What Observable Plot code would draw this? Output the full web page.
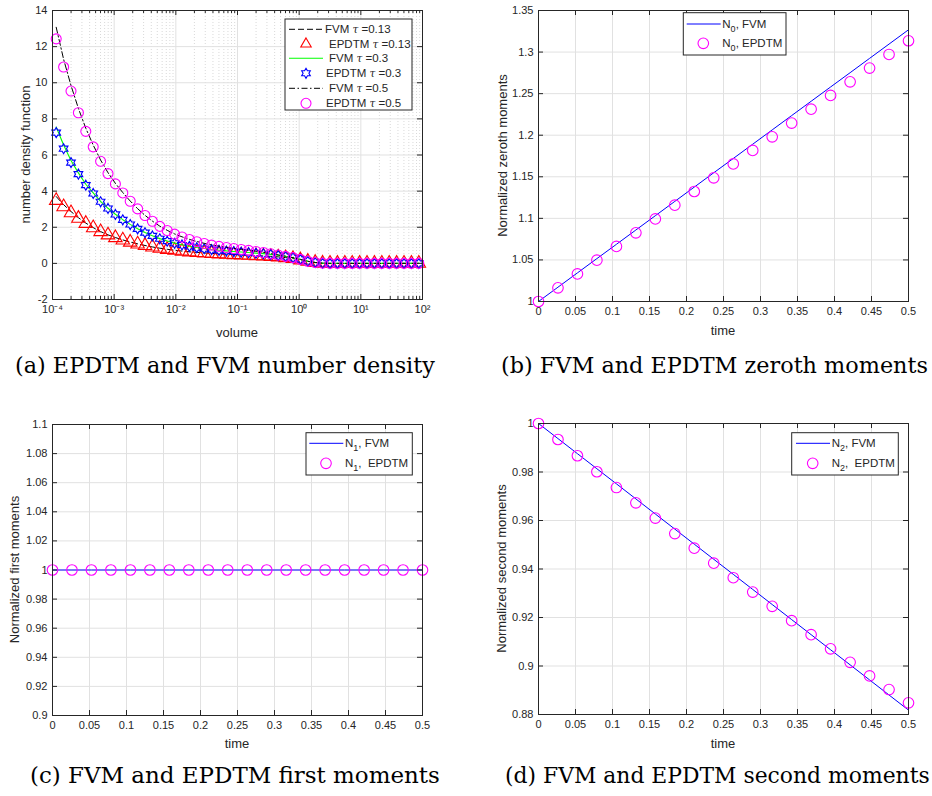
<!DOCTYPE html>
<html>
<head>
<meta charset="utf-8">
<script src="https://cdn.jsdelivr.net/npm/d3@7"></script>
<script src="https://cdn.jsdelivr.net/npm/@observablehq/plot@0.6"></script>
<style>
  body { margin: 0; background: #fff; }
  #fig { position: relative; width: 932px; height: 796px; background: #fff; overflow: hidden; }
  .panel { position: absolute; }
  #captions { position: absolute; left: 0; top: 0; }
</style>
</head>
<body>
<div id="fig"></div>
<script>
// ---------- (a) number density vs volume ----------
const volume = [1.148e-4, 1.514e-4, 1.995e-4, 2.630e-4, 3.467e-4, 4.571e-4, 6.026e-4, 7.943e-4, 1.047e-3, 1.380e-3,
  1.820e-3, 2.399e-3, 3.162e-3, 4.169e-3, 5.495e-3, 7.244e-3, 9.550e-3, 1.259e-2, 1.660e-2, 2.188e-2,
  2.884e-2, 3.802e-2, 5.012e-2, 6.607e-2, 8.710e-2, 0.1148, 0.1514, 0.1995, 0.2630, 0.3467,
  0.4571, 0.6026, 0.7943, 1.047, 1.380, 1.820, 2.399, 3.162, 4.169, 5.495,
  7.244, 9.550, 12.59, 16.60, 21.88, 28.84, 38.02, 50.12, 66.07, 87.10];

const fvm013 = [3.70, 3.25, 2.87, 2.53, 2.23, 1.98, 1.76, 1.58, 1.43, 1.30, 1.18, 1.08, 0.99, 0.91, 0.84, 0.78, 0.73, 0.68, 0.64, 0.61,
  0.58, 0.55, 0.53, 0.51, 0.49, 0.47, 0.45, 0.43, 0.41, 0.39, 0.36, 0.32, 0.27, 0.20, 0.12, 0.05, 0.01, 0, 0, 0,
  0, 0, 0, 0, 0, 0, 0, 0, 0, 0];
const epdtm013 = [3.48, 3.13, 2.80, 2.49, 2.21, 1.97, 1.75, 1.57, 1.42, 1.29, 1.17, 1.07, 0.98, 0.90, 0.83, 0.77, 0.72, 0.67, 0.63, 0.60,
  0.57, 0.54, 0.52, 0.50, 0.48, 0.46, 0.44, 0.42, 0.40, 0.38, 0.35, 0.31, 0.26, 0.19, 0.11, 0.05, 0.01, 0, 0, 0,
  0, 0, 0, 0, 0, 0, 0, 0, 0, 0];
const fvm03 = [7.55, 6.55, 5.70, 5.01, 4.38, 3.90, 3.43, 3.05, 2.72, 2.42, 2.16, 1.92, 1.71, 1.53, 1.37, 1.24, 1.12, 1.03, 0.95, 0.88,
  0.82, 0.77, 0.73, 0.69, 0.66, 0.63, 0.60, 0.57, 0.54, 0.50, 0.45, 0.39, 0.31, 0.22, 0.12, 0.05, 0.01, 0, 0, 0,
  0, 0, 0, 0, 0, 0, 0, 0, 0, 0];
const epdtm03 = [7.24, 6.35, 5.58, 4.94, 4.33, 3.87, 3.41, 3.04, 2.71, 2.41, 2.15, 1.91, 1.70, 1.52, 1.36, 1.23, 1.11, 1.02, 0.94, 0.87,
  0.81, 0.76, 0.72, 0.68, 0.65, 0.62, 0.59, 0.56, 0.53, 0.49, 0.44, 0.38, 0.31, 0.22, 0.12, 0.05, 0.01, 0, 0, 0,
  0, 0, 0, 0, 0, 0, 0, 0, 0, 0];
const fvm05 = [13.07, 11.30, 9.85, 8.58, 7.48, 6.55, 5.72, 5.02, 4.43, 3.92, 3.45, 3.03, 2.66, 2.34, 2.06, 1.83, 1.63, 1.47, 1.33, 1.21,
  1.11, 1.02, 0.95, 0.89, 0.83, 0.78, 0.73, 0.67, 0.61, 0.54, 0.47, 0.40, 0.32, 0.22, 0.12, 0.05, 0.01, 0, 0, 0,
  0, 0, 0, 0, 0, 0, 0, 0, 0, 0];
const epdtm05 = [12.43, 10.87, 9.54, 8.34, 7.31, 6.45, 5.65, 4.97, 4.40, 3.90, 3.44, 3.02, 2.65, 2.33, 2.05, 1.82, 1.62, 1.46, 1.32, 1.20,
  1.10, 1.01, 0.94, 0.88, 0.82, 0.77, 0.72, 0.66, 0.60, 0.53, 0.46, 0.39, 0.32, 0.22, 0.12, 0.05, 0.01, 0, 0, 0,
  0, 0, 0, 0, 0, 0, 0, 0, 0, 0];

const xTicksA = [1e-4, 1e-3, 1e-2, 1e-1, 1, 10, 100];
const xTickLabelsA = ["10⁻⁴", "10⁻³", "10⁻²", "10⁻¹", "10⁰", "10¹", "10²"];
const yTicksA = [-2, 0, 2, 4, 6, 8, 10, 12, 14];

// ---------- (b)-(d) normalized moments vs time ----------
const time = [0, 0.0263, 0.0526, 0.0789, 0.1053, 0.1316, 0.1579, 0.1842, 0.2105, 0.2368,
  0.2632, 0.2895, 0.3158, 0.3421, 0.3684, 0.3947, 0.4211, 0.4474, 0.4737, 0.5];

const n0Fvm = [1, 1.0172, 1.0344, 1.0516, 1.0688, 1.0860, 1.1032, 1.1204, 1.1376, 1.1548,
  1.1720, 1.1892, 1.2064, 1.2236, 1.2408, 1.2580, 1.2752, 1.2924, 1.3096, 1.3268];
const n0Epdtm = [1, 1.0165, 1.0332, 1.0497, 1.0662, 1.0826, 1.0993, 1.1158, 1.1323, 1.1488,
  1.1655, 1.1817, 1.1981, 1.2146, 1.2313, 1.2478, 1.2642, 1.2807, 1.2971, 1.3136];

const n1Fvm = [1, 1, 1, 1, 1, 1, 1, 1, 1, 1, 1, 1, 1, 1, 1, 1, 1, 1, 1, 1];
const n1Epdtm = [1, 1, 1, 1, 1, 1, 1, 1, 1, 1, 1, 1, 1, 1, 1, 1, 1, 1, 1, 1];

const n2Fvm = [1, 0.99378, 0.98756, 0.98134, 0.97512, 0.96890, 0.96268, 0.95646, 0.95024, 0.94402,
  0.93780, 0.93158, 0.92536, 0.91914, 0.91292, 0.90670, 0.90048, 0.89426, 0.88804, 0.88182];
const n2Epdtm = [1, 0.9934, 0.9867, 0.9801, 0.9736, 0.9673, 0.9610, 0.9546, 0.9486, 0.9424,
  0.9364, 0.9305, 0.9246, 0.9187, 0.9129, 0.9071, 0.9015, 0.8959, 0.8903, 0.8848];

const timeTicks = [0, 0.05, 0.1, 0.15, 0.2, 0.25, 0.3, 0.35, 0.4, 0.45, 0.5];
const yTicksB = [1, 1.05, 1.1, 1.15, 1.2, 1.25, 1.3, 1.35];
const yTicksC = [0.9, 0.92, 0.94, 0.96, 0.98, 1, 1.02, 1.04, 1.06, 1.08, 1.1];
const yTicksD = [0.88, 0.9, 0.92, 0.94, 0.96, 0.98, 1];

// ---------- styling ----------
const INK = "#262626";
const GRID = "#e1e1e1";
const SANS = "'Liberation Sans', Arial, Helvetica, sans-serif";
const LEGEND_FONT = 11.5;

// six-pointed star outline
const hexagram = {
  draw(ctx, size) {
    const R = Math.sqrt(size) * 0.565, r = R / Math.sqrt(3);
    for (let k = 0; k < 12; k++) {
      const a = Math.PI / 6 * k - Math.PI / 2;
      const rad = k % 2 ? r : R;
      const px = rad * Math.cos(a), py = rad * Math.sin(a);
      if (k) ctx.lineTo(px, py); else ctx.moveTo(px, py);
    }
    ctx.closePath();
  }
};

const rows = (xs, ys) => xs.map((x, i) => ({x, y: ys[i]}));

function axesPlot(o) {
  const pw = o.width - o.ml - o.mr, ph = o.height - o.mt - o.mb;
  const m = [];
  if (o.minorX) m.push(Plot.ruleX(o.minorX, {stroke: "#d9d9d9", strokeDasharray: "1,2"}));
  m.push(Plot.ruleX(o.xTicks, {stroke: GRID}));
  m.push(Plot.ruleY(o.yTicks, {stroke: GRID}));
  m.push(...o.marks);
  m.push(Plot.frame({stroke: INK, strokeWidth: 1}));
  m.push(Plot.tickX(o.xTicks, {x: d => d, insetTop: ph - 5, stroke: INK}));
  m.push(Plot.tickX(o.xTicks, {x: d => d, insetBottom: ph - 5, stroke: INK}));
  if (o.minorX) {
    m.push(Plot.tickX(o.minorX, {x: d => d, insetTop: ph - 3, stroke: INK}));
    m.push(Plot.tickX(o.minorX, {x: d => d, insetBottom: ph - 3, stroke: INK}));
  }
  m.push(Plot.tickY(o.yTicks, {y: d => d, insetRight: pw - 5, stroke: INK}));
  m.push(Plot.tickY(o.yTicks, {y: d => d, insetLeft: pw - 5, stroke: INK}));
  m.push(Plot.axisX(o.xTicks, {tickSize: 0, tickPadding: 6, tickFormat: o.xFormat, label: null, fill: INK}));
  m.push(Plot.axisY(o.yTicks, {tickSize: 0, tickPadding: 5, tickFormat: o.yFormat, label: null, fill: INK}));
  const svg = Plot.plot({
    width: o.width, height: o.height,
    marginLeft: o.ml, marginRight: o.mr, marginTop: o.mt, marginBottom: o.mb,
    x: {type: o.xType || "linear", domain: o.xDomain},
    y: {domain: o.yDomain},
    style: {fontFamily: SANS, fontSize: "11px", color: INK, background: "transparent", overflow: "visible"},
    marks: m
  });
  const s = d3.select(svg);
  // axis titles
  s.append("text").text(o.xLabel)
    .attr("x", o.ml + pw / 2).attr("y", o.xLabelY)
    .attr("text-anchor", "middle").attr("font-size", 13).attr("font-family", SANS).attr("fill", INK);
  s.append("text").text(o.yLabel)
    .attr("transform", `translate(${o.yLabelX},${o.mt + ph / 2}) rotate(-90)`)
    .attr("text-anchor", "middle").attr("dominant-baseline", "central")
    .attr("font-size", 13).attr("font-family", SANS).attr("fill", INK);
  if (o.legend) drawLegend(s, o.legend);
  return svg;
}

function drawLegend(s, L) {
  const g = s.append("g");
  const [x0, y0, x1, y1] = L.box;
  g.append("rect").attr("x", x0).attr("y", y0).attr("width", x1 - x0).attr("height", y1 - y0)
    .attr("fill", "white").attr("stroke", INK).attr("stroke-width", 1);
  for (const e of L.entries) {
    if (e.line) {
      g.append("line").attr("x1", e.line[0]).attr("x2", e.line[1]).attr("y1", e.y).attr("y2", e.y)
        .attr("stroke", e.stroke).attr("stroke-width", e.strokeWidth || 1)
        .attr("stroke-dasharray", e.dash || null);
    }
    if (e.symbol) {
      g.append("path").attr("d", d3.symbol(e.symbol, Math.PI * e.r * e.r)())
        .attr("transform", `translate(${e.mx},${e.y})`)
        .attr("fill", "none").attr("stroke", e.stroke).attr("stroke-width", e.strokeWidth || 1);
    }
    const t = g.append("text").attr("x", e.tx).attr("y", e.y + 4)
      .attr("text-anchor", "start")
      .attr("font-size", LEGEND_FONT).attr("font-family", SANS).attr("fill", INK)
      .style("white-space", "pre");
    let shift = 0;
    for (const p of e.parts) {
      const ts = t.append("tspan").text(p.t);
      if (p.italic) ts.attr("font-style", "italic").attr("font-family", "'DejaVu Serif', serif").attr("font-size", LEGEND_FONT - 1);
      if (p.sub) { ts.attr("font-size", 9).attr("dy", 3.5 - shift); shift = 3.5; }
      else if (shift) { ts.attr("dy", -shift); shift = 0; }
    }
  }
}

const fig = document.getElementById("fig");
function place(svg, left, top) {
  svg.classList.add("panel");
  svg.style.left = left + "px";
  svg.style.top = top + "px";
  fig.appendChild(svg);
}

// minor decade positions for the log axis
const minorA = [];
for (let k = -4; k < 2; k++) for (let j = 2; j <= 9; j++) minorA.push(j * Math.pow(10, k));

const labelA = new Map(xTicksA.map((v, i) => [v, xTickLabelsA[i]]));

// ---- panel (a)
place(axesPlot({
  width: 466, height: 345, ml: 52, mr: 44, mt: 10, mb: 46,
  xType: "log", xDomain: [1e-4, 100], yDomain: [-2, 14],
  xTicks: xTicksA, yTicks: yTicksA, minorX: minorA,
  xFormat: d => labelA.get(d), yFormat: d => String(d),
  xLabel: "volume", xLabelY: 337, yLabel: "number density function", yLabelX: 25,
  marks: [
    Plot.line(rows(volume, fvm013), {x: "x", y: "y", stroke: "black", strokeWidth: 1, strokeDasharray: "6,3"}),
    Plot.dot(rows(volume, epdtm013), {x: "x", y: "y", symbol: "triangle", r: 5, stroke: "#ff0000", strokeWidth: 1.1, fill: "none"}),
    Plot.line(rows(volume, fvm03), {x: "x", y: "y", stroke: "#00ff00", strokeWidth: 1.1}),
    Plot.dot(rows(volume, epdtm03), {x: "x", y: "y", symbol: hexagram, r: 5, stroke: "#0000ff", strokeWidth: 1.1, fill: "none"}),
    Plot.line(rows(volume, fvm05), {x: "x", y: "y", stroke: "black", strokeWidth: 1, strokeDasharray: "6,2.5,1.5,2.5"}),
    Plot.dot(rows(volume, epdtm05), {x: "x", y: "y", symbol: "circle", r: 5, stroke: "#ff00ff", strokeWidth: 1.1, fill: "none"})
  ],
  legend: {
    box: [285, 19, 412, 110],
    entries: [
      {y: 29.3, line: [289, 323], stroke: "black", dash: "6,3", tx: 325, parts: [{t: "FVM "}, {t: "τ", italic: true}, {t: " =0.13"}]},
      {y: 44, symbol: d3.symbolTriangle2, r: 5, mx: 306, stroke: "#ff0000", strokeWidth: 1.1, tx: 329, parts: [{t: "EPDTM "}, {t: "τ", italic: true}, {t: " =0.13"}]},
      {y: 58.3, line: [289, 323], stroke: "#00ff00", strokeWidth: 1.1, tx: 329, parts: [{t: "FVM "}, {t: "τ", italic: true}, {t: " =0.3"}]},
      {y: 73.3, symbol: hexagram, r: 5, mx: 306, stroke: "#0000ff", strokeWidth: 1.1, tx: 326, parts: [{t: "EPDTM "}, {t: "τ", italic: true}, {t: " =0.3"}]},
      {y: 88.3, line: [289, 323], stroke: "black", dash: "6,2.5,1.5,2.5", tx: 329, parts: [{t: "FVM "}, {t: "τ", italic: true}, {t: " =0.5"}]},
      {y: 103.3, symbol: d3.symbolCircle, r: 5, mx: 306, stroke: "#ff00ff", strokeWidth: 1.1, tx: 326, parts: [{t: "EPDTM "}, {t: "τ", italic: true}, {t: " =0.5"}]}
    ]
  }
}), 0, 0);

const fmt = d => String(d);

// ---- panel (b)
place(axesPlot({
  width: 466, height: 345, ml: 72, mr: 24, mt: 10, mb: 44,
  xDomain: [0, 0.5], yDomain: [1, 1.35],
  xTicks: timeTicks, yTicks: yTicksB, xFormat: fmt, yFormat: fmt,
  xLabel: "time", xLabelY: 335, yLabel: "Normalized zeroth moments", yLabelX: 36,
  marks: [
    Plot.line(rows(time, n0Fvm), {x: "x", y: "y", stroke: "#0000ff", strokeWidth: 1}),
    Plot.dot(rows(time, n0Epdtm), {x: "x", y: "y", r: 5.3, stroke: "#ff00ff", strokeWidth: 1.1, fill: "none"})
  ],
  legend: {
    box: [217.3, 12.7, 320, 55],
    entries: [
      {y: 24, line: [220.7, 254.7], stroke: "#0000ff", tx: 256.3, parts: [{t: "N"}, {t: "0", sub: true}, {t: ", FVM"}]},
      {y: 43.3, symbol: d3.symbolCircle, r: 5.3, mx: 237.3, stroke: "#ff00ff", strokeWidth: 1.1, tx: 256.3, parts: [{t: "N"}, {t: "0", sub: true}, {t: ", EPDTM"}]}
    ]
  }
}), 466, 0);

// ---- panel (c)
place(axesPlot({
  width: 466, height: 340, ml: 52, mr: 44, mt: 14, mb: 35,
  xDomain: [0, 0.5], yDomain: [0.9, 1.1],
  xTicks: timeTicks, yTicks: yTicksC, xFormat: fmt, yFormat: fmt,
  xLabel: "time", xLabelY: 338, yLabel: "Normalized first moments", yLabelX: 14,
  marks: [
    Plot.line(rows(time, n1Fvm), {x: "x", y: "y", stroke: "#0000ff", strokeWidth: 1}),
    Plot.dot(rows(time, n1Epdtm), {x: "x", y: "y", r: 5.3, stroke: "#ff00ff", strokeWidth: 1.1, fill: "none"})
  ],
  legend: {
    box: [306, 22.7, 412.3, 65],
    entries: [
      {y: 33.3, line: [309.3, 343.3], stroke: "#0000ff", tx: 345, parts: [{t: "N"}, {t: "1", sub: true}, {t: ", FVM"}]},
      {y: 53.3, symbol: d3.symbolCircle, r: 5.3, mx: 326, stroke: "#ff00ff", strokeWidth: 1.1, tx: 345, parts: [{t: "N"}, {t: "1", sub: true}, {t: ",  EPDTM"}]}
    ]
  }
}), 0, 410);

// ---- panel (d)
place(axesPlot({
  width: 466, height: 340, ml: 72, mr: 24, mt: 13, mb: 36,
  xDomain: [0, 0.5], yDomain: [0.88, 1],
  xTicks: timeTicks, yTicks: yTicksD, xFormat: fmt, yFormat: fmt,
  xLabel: "time", xLabelY: 338, yLabel: "Normalized second moments", yLabelX: 35,
  marks: [
    Plot.line(rows(time, n2Fvm), {x: "x", y: "y", stroke: "#0000ff", strokeWidth: 1}),
    Plot.dot(rows(time, n2Epdtm), {x: "x", y: "y", r: 5.3, stroke: "#ff00ff", strokeWidth: 1.1, fill: "none"})
  ],
  legend: {
    box: [325.7, 22.7, 432.3, 65],
    entries: [
      {y: 33.3, line: [330, 364], stroke: "#0000ff", tx: 365.7, parts: [{t: "N"}, {t: "2", sub: true}, {t: ", FVM"}]},
      {y: 53.3, symbol: d3.symbolCircle, r: 5.3, mx: 346.7, stroke: "#ff00ff", strokeWidth: 1.1, tx: 365.7, parts: [{t: "N"}, {t: "2", sub: true}, {t: ",  EPDTM"}]}
    ]
  }
}), 466, 410);

// ---- sub-figure captions
const captions = [
  {text: "(a) EPDTM and FVM number density", x0: 15, x1: 435, y: 373},
  {text: "(b) FVM and EPDTM zeroth moments", x0: 501, x1: 928, y: 373},
  {text: "(c) FVM and EPDTM first moments", x0: 30, x1: 440, y: 783},
  {text: "(d) FVM and EPDTM second moments", x0: 505, x1: 930, y: 783}
];
const cap = d3.select(fig).append("svg").attr("id", "captions").attr("width", 932).attr("height", 796)
  .style("pointer-events", "none");
for (const c of captions) {
  const t = cap.append("text").text(c.text).attr("x", c.x0).attr("y", c.y)
    .attr("font-family", "'DejaVu Serif', serif").attr("font-size", 20).attr("fill", "#000");
  const w = t.node().getComputedTextLength();
  t.attr("font-size", 20 * (c.x1 - c.x0) / w);
}
</script>
</body>
</html>
